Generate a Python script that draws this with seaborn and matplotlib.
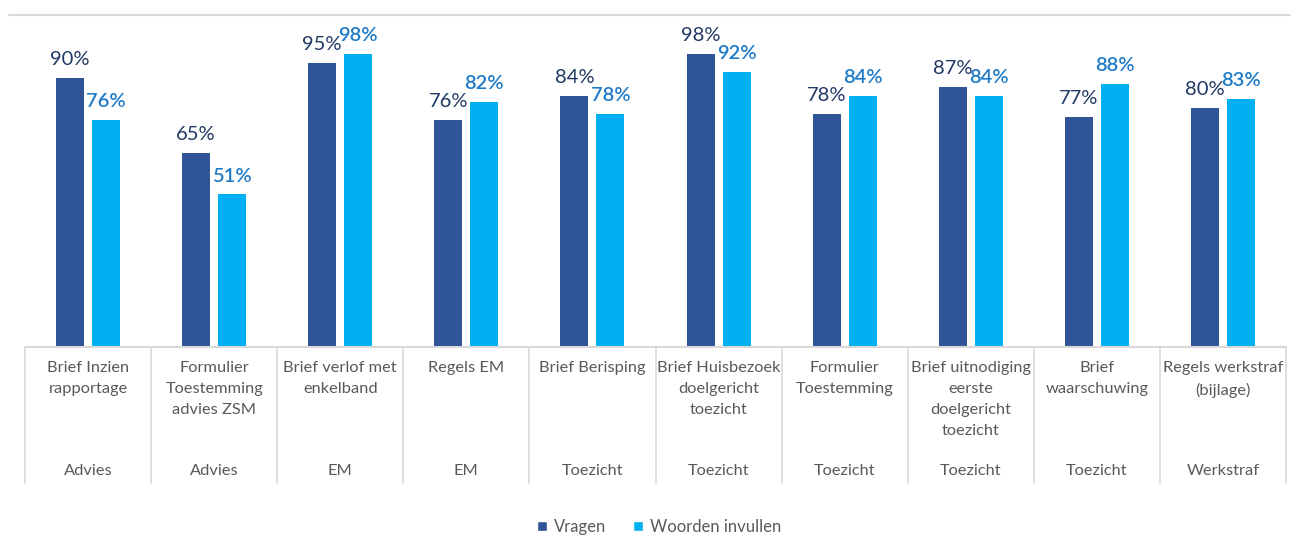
import matplotlib
matplotlib.use("Agg")
import matplotlib.pyplot as plt
import matplotlib.transforms as mtransforms
from matplotlib.lines import Line2D
from matplotlib.patches import Patch
import seaborn as sns
import pandas as pd

documents = ["Brief Inzien\nrapportage", "Formulier\nToestemming\nadvies ZSM", "Brief verlof met\nenkelband",
             "Regels EM", "Brief Berisping", "Brief Huisbezoek\ndoelgericht\ntoezicht",
             "Formulier\nToestemming", "Brief uitnodiging\neerste\ndoelgericht\ntoezicht",
             "Brief\nwaarschuwing", "Regels werkstraf\n(bijlage)"]
groups = ["Advies", "Advies", "EM", "EM", "Toezicht", "Toezicht", "Toezicht", "Toezicht", "Toezicht", "Werkstraf"]
vragen = [90, 65, 95, 76, 84, 98, 78, 87, 77, 80]
woorden = [76, 51, 98, 82, 78, 92, 84, 84, 88, 83]
series = ["Vragen", "Woorden invullen"]

df = pd.DataFrame({
    "doc": documents * 2,
    "serie": [series[0]] * len(documents) + [series[1]] * len(documents),
    "pct": vragen + woorden,
})

sns.set_style("white")
plt.rcParams["font.family"] = ["Lato", "DejaVu Sans"]

W, H = 1297, 543
fig = plt.figure(figsize=(W / 100, H / 100), dpi=100)
left, right, top, bottom = 25, 1286, 15, 347
ax = fig.add_axes([left / W, 1 - bottom / H, (right - left) / W, (bottom - top) / H])

dark = "#2F5597"
light = "#00B0F0"
sns.barplot(data=df, x="doc", y="pct", hue="serie", hue_order=series, order=documents,
            palette=[dark, light], width=0.571, gap=0.222, ax=ax, legend=False,
            saturation=1, edgecolor="none")

ax.set_xlim(-0.5, len(documents) - 0.5)
ax.set_ylim(0, 111)
for s in ax.spines.values():
    s.set_visible(False)
ax.set_xticks([])
ax.set_yticks([])
ax.set_xlabel("")
ax.set_ylabel("")

ax.bar_label(ax.containers[0], labels=[f"{v}%" for v in vragen], padding=7,
             fontsize=14.5, color="#203864")
ax.bar_label(ax.containers[1], labels=[f"{v}%" for v in woorden], padding=7,
             fontsize=14.5, color="#1F7BC8", fontweight="semibold")

gray = "#D9D9D9"
trans = mtransforms.blended_transform_factory(ax.transData, ax.transAxes)
tbot = -(483 - bottom) / (bottom - top)
ax.plot([-0.5, len(documents) - 0.5], [0, 0], color=gray, lw=1.5, clip_on=False, transform=trans)
for i in range(len(documents) + 1):
    ax.plot([i - 0.5, i - 0.5], [0, tbot], color=gray, lw=1.2, clip_on=False, transform=trans)

first_top = -(361 - bottom) / (bottom - top)
grp_y = -(471 - bottom) / (bottom - top)
for i, (d, g) in enumerate(zip(documents, groups)):
    ax.text(i, first_top, d, transform=trans, ha="center", va="top", fontsize=11.8,
            color="#595959", linespacing=1.65)
    ax.text(i, grp_y, g, transform=trans, ha="center", va="center", fontsize=11.8,
            color="#595959")

fig.add_artist(Line2D([9 / W, 1290 / W], [1 - 15 / H, 1 - 15 / H], color=gray, lw=1.5))

handles = [Patch(facecolor=dark), Patch(facecolor=light)]
fig.legend(handles, series, loc="center", bbox_to_anchor=(659 / W, 1 - 527 / H), ncol=2,
           frameon=False, fontsize=12, handlelength=0.6, handleheight=0.6,
           handletextpad=0.4, columnspacing=1.6, labelcolor="#595959")

fig.savefig("out.png", dpi=100)
